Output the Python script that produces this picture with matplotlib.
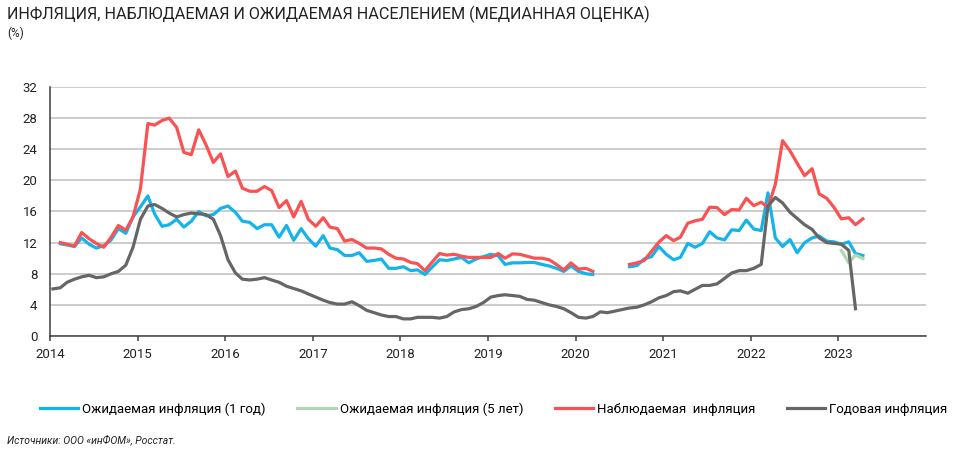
import numpy as np
import pandas as pd
import matplotlib
matplotlib.use('Agg')
import matplotlib.pyplot as plt
import matplotlib.dates as mdates

plt.rcParams['font.family'] = ['Roboto', 'DejaVu Sans']

nan = np.nan

# monthly values, Jan 2014 .. Apr 2023 (%)
expected_1y = [
    nan, 11.85, 11.7, 11.5, 12.6, 11.8, 11.3, 11.6, 12.35, 13.8, 13.2, 15.3,
    16.6, 18.0, 15.7, 14.1, 14.3, 15.0, 14.0, 14.75, 16.0, 15.45, 15.6, 16.4,
    16.7, 15.9, 14.75, 14.6, 13.8, 14.3, 14.3, 12.7, 14.2, 12.3, 13.8, 12.5,
    11.55, 12.9, 11.3, 11.1, 10.35, 10.35, 10.7, 9.6, 9.7, 9.9, 8.7, 8.7,
    8.9, 8.4, 8.5, 7.9, 8.85, 9.8, 9.7, 9.9, 10.1, 9.4, 9.9, 10.2,
    10.5, 10.3, 9.2, 9.4, 9.4, 9.45, 9.45, 9.2, 9.0, 8.7, 8.3, 9.0,
    8.3, 8.0, 7.9, nan, nan, nan, nan, 8.9, 9.05, 9.9, 10.2, 11.5,
    10.5, 9.8, 10.1, 11.9, 11.4, 11.9, 13.4, 12.6, 12.35, 13.65, 13.55, 14.9,
    13.75, 13.55, 18.4, 12.6, 11.5, 12.4, 10.7, 12.0, 12.6, 12.85, 12.2, 12.1,
    11.8, 12.1, 10.6, 10.35,
]

expected_5y = [nan] * 108 + [11.0, 9.4, 10.4, 9.95]

observed = [
    nan, 12.0, 11.8, 11.55, 13.3, 12.5, 11.9, 11.4, 12.7, 14.2, 13.6, 15.3,
    18.9, 27.3, 27.1, 27.7, 28.0, 26.8, 23.6, 23.3, 26.5, 24.6, 22.3, 23.4,
    20.5, 21.2, 19.0, 18.6, 18.6, 19.2, 18.7, 16.5, 17.4, 15.3, 17.3, 15.0,
    14.1, 15.2, 14.0, 13.8, 12.2, 12.4, 11.9, 11.3, 11.3, 11.2, 10.5, 10.0,
    9.9, 9.45, 9.3, 8.4, 9.5, 10.6, 10.4, 10.5, 10.25, 10.1, 10.1, 10.1,
    10.1, 10.6, 10.0, 10.55, 10.5, 10.25, 10.0, 10.0, 9.8, 9.2, 8.5, 9.4,
    8.6, 8.7, 8.3, nan, nan, nan, nan, 9.2, 9.4, 9.7, 10.9, 12.05,
    12.9, 12.25, 12.7, 14.5, 14.8, 15.0, 16.55, 16.5, 15.6, 16.25, 16.2, 17.7,
    16.75, 17.2, 16.5, 19.5, 25.1, 23.8, 22.2, 20.6, 21.5, 18.25, 17.7, 16.55,
    15.05, 15.2, 14.3, 15.05,
]

annual_cpi = [
    6.05, 6.2, 6.9, 7.3, 7.6, 7.8, 7.5, 7.6, 8.0, 8.3, 9.1, 11.4,
    15.0, 16.7, 16.9, 16.4, 15.8, 15.3, 15.6, 15.8, 15.7, 15.6, 15.0, 12.9,
    9.8, 8.1, 7.3, 7.2, 7.3, 7.5, 7.2, 6.9, 6.4, 6.1, 5.8, 5.4,
    5.0, 4.6, 4.3, 4.1, 4.1, 4.4, 3.9, 3.3, 3.0, 2.7, 2.5, 2.5,
    2.2, 2.2, 2.4, 2.4, 2.4, 2.3, 2.5, 3.1, 3.4, 3.5, 3.8, 4.3,
    5.0, 5.2, 5.3, 5.2, 5.1, 4.7, 4.6, 4.3, 4.0, 3.8, 3.5, 3.0,
    2.4, 2.3, 2.5, 3.1, 3.0, 3.2, 3.4, 3.6, 3.7, 4.0, 4.4, 4.9,
    5.2, 5.7, 5.8, 5.5, 6.0, 6.5, 6.5, 6.7, 7.4, 8.1, 8.4, 8.4,
    8.7, 9.2, 16.7, 17.8, 17.1, 15.9, 15.1, 14.3, 13.7, 12.6, 12.0, 11.9,
    11.8, 11.0, 3.5,
]

dates_survey = pd.date_range('2014-01-01', periods=len(observed), freq='MS') + pd.Timedelta(days=12)
dates_cpi = pd.date_range('2014-01-01', periods=len(annual_cpi), freq='MS') + pd.Timedelta(days=12)

labels = ['Ожидаемая инфляция (1 год)', 'Ожидаемая инфляция (5 лет)',
          'Наблюдаемая  инфляция', 'Годовая инфляция']
colors = ['#14b4ea', '#b2d6b2', '#fa5252', '#666666']

fig = plt.figure(figsize=(9.54, 4.54), dpi=100)
ax = fig.add_axes([50 / 954, 1 - 336 / 454, 876 / 954, 249 / 454])

lw = 2.3
ax.plot(dates_survey, expected_1y, color=colors[0], lw=lw, label=labels[0])
ax.plot(dates_survey, expected_5y, color=colors[1], lw=lw, label=labels[1])
ax.plot(dates_survey, observed, color=colors[2], lw=lw, label=labels[2])
ax.plot(dates_cpi, annual_cpi, color=colors[3], lw=lw, label=labels[3])

ax.set_ylim(0, 32)
ax.set_yticks(range(0, 33, 4))
ax.set_xlim(pd.Timestamp('2014-01-01'), pd.Timestamp('2024-01-01'))
ax.set_xticks([pd.Timestamp(f'{y}-01-01') for y in range(2014, 2024)])
ax.xaxis.set_major_formatter(mdates.DateFormatter('%Y'))

ax.yaxis.grid(True, color='#c4c4c4', lw=1.2)
ax.set_axisbelow(True)
for side in ('top', 'right'):
    ax.spines[side].set_visible(False)
for side in ('left', 'bottom'):
    ax.spines[side].set_color('#404040')
    ax.spines[side].set_linewidth(1.1)
ax.tick_params(axis='y', length=0, pad=9, labelsize=9.5, labelcolor='#222222')
ax.tick_params(axis='x', length=3.5, width=1.1, color='#404040', pad=5,
               labelsize=9.5, labelcolor='#222222')

fig.legend(loc='center left', bbox_to_anchor=(40 / 954, 1 - 409 / 454), ncol=4,
           frameon=False, fontsize=9.5, handlelength=2.9, handletextpad=0.3,
           columnspacing=2.4, borderpad=0, borderaxespad=0)

fig.text(7 / 954, 1 - 14 / 454,
         'ИНФЛЯЦИЯ, НАБЛЮДАЕМАЯ И ОЖИДАЕМАЯ НАСЕЛЕНИЕМ (МЕДИАННАЯ ОЦЕНКА)',
         ha='left', va='center', fontsize=11.6, color='#222222')
fig.text(7 / 954, 1 - 33 / 454, '(%)', ha='left', va='center', fontsize=8.5,
         color='#222222')
fig.text(7 / 954, 1 - 440 / 454, 'Источники: ООО «инФОМ», Росстат.',
         ha='left', va='center', fontsize=7.5, style='italic', color='#222222')

fig.savefig('out.png', dpi=100)
